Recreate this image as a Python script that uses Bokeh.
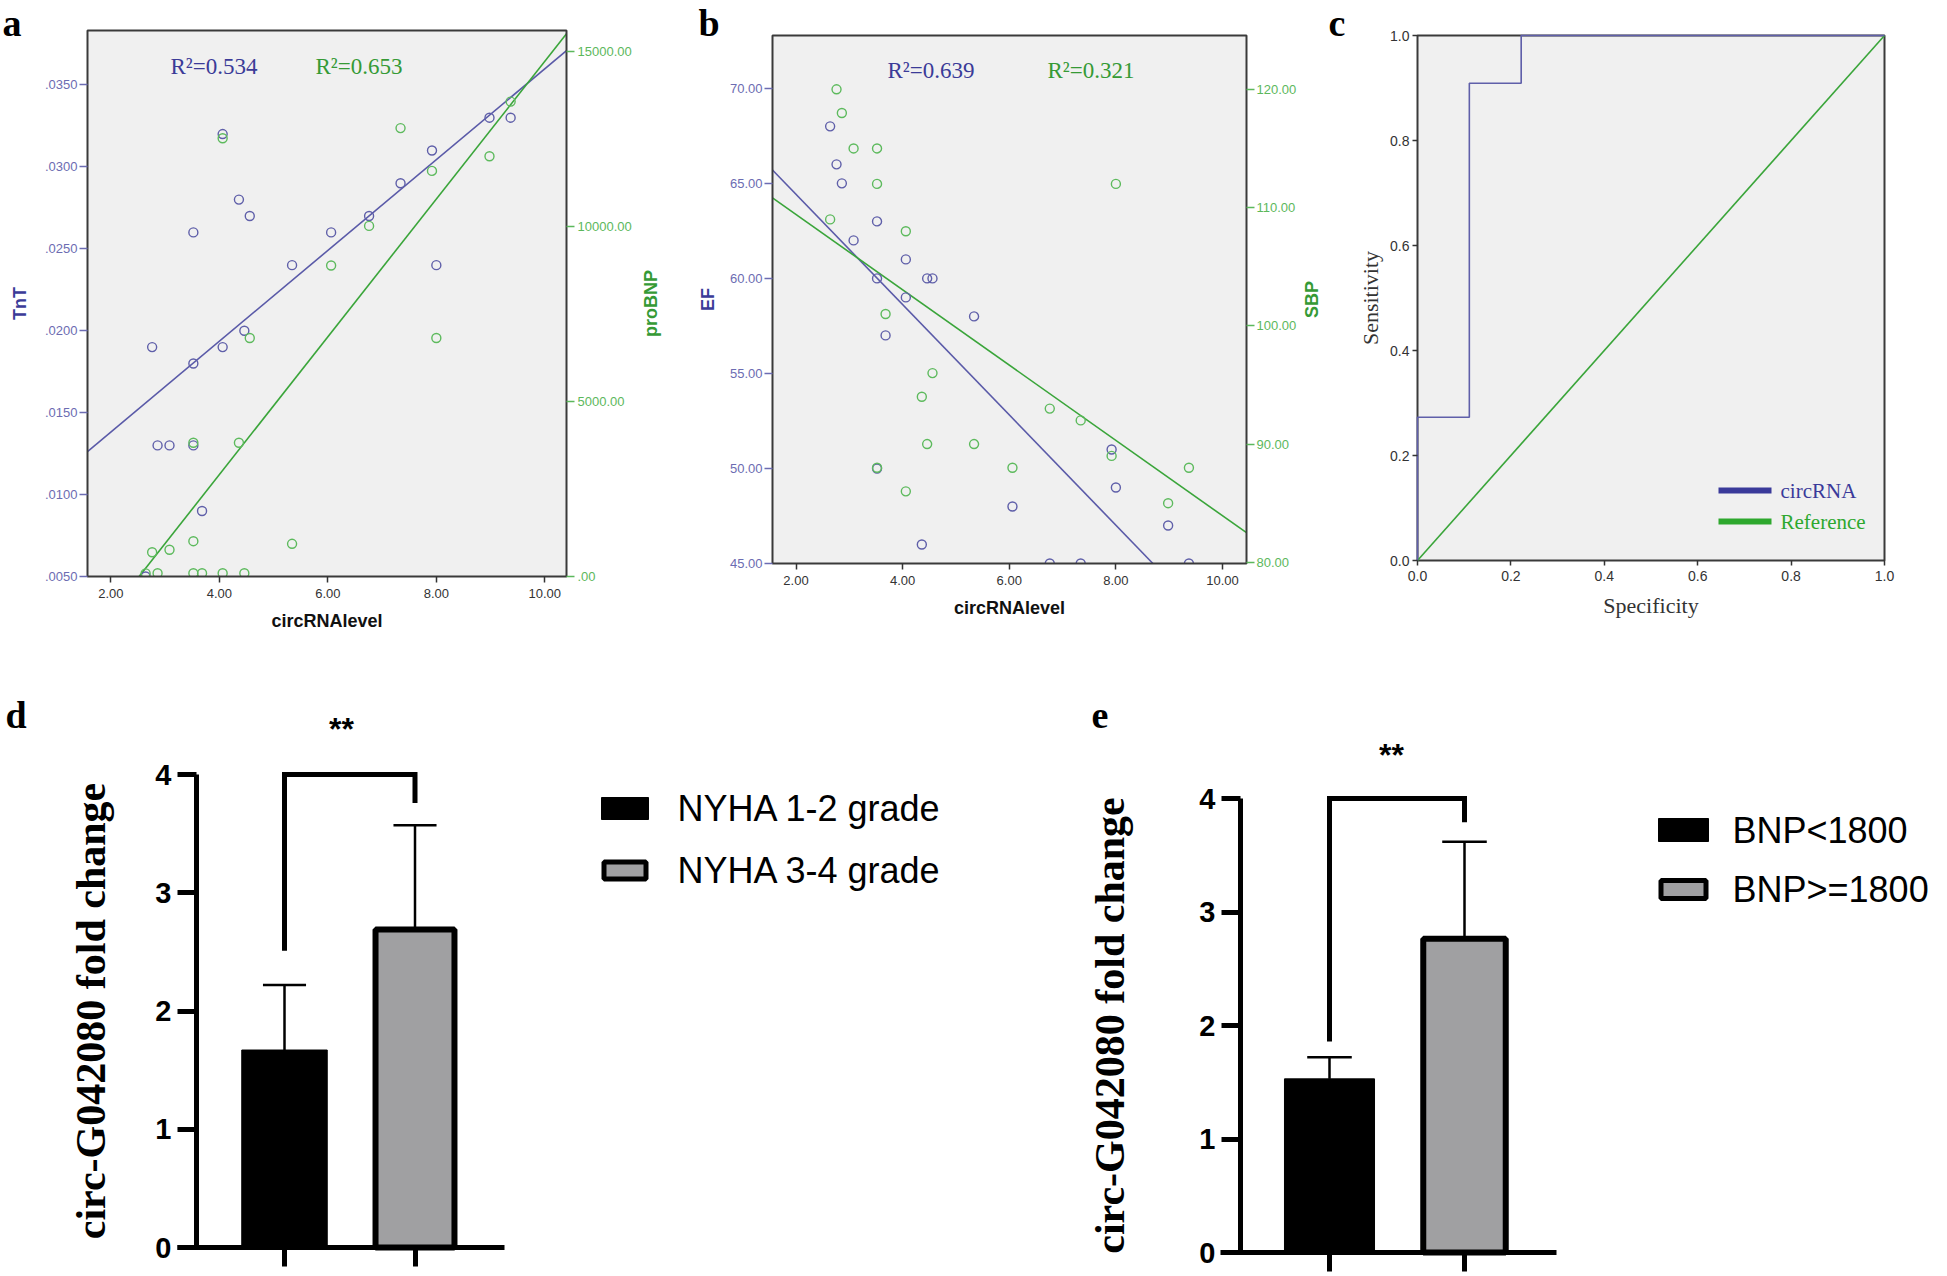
import math
from bokeh.plotting import figure
from bokeh.models import LinearAxis, Range1d, FixedTicker, ColumnDataSource
from bokeh.layouts import column, row
from bokeh.core.properties import value
from bokeh.embed import file_html
from bokeh.resources import INLINE

SANS = "Liberation Sans"
SERIF = "Liberation Serif"

# ---------------- data ----------------
circ_level = [2.64, 2.76, 2.86, 3.08, 3.52, 3.52, 3.52, 3.68, 4.06, 4.06, 4.36,
              4.46, 4.56, 5.34, 6.06, 6.76, 7.34, 7.92, 8.00, 8.98, 9.37]
tnt = [0.0050, 0.0190, 0.0130, 0.0130, 0.0260, 0.0180, 0.0130, 0.0090, 0.0320, 0.0190, 0.0280,
       0.0200, 0.0270, 0.0240, 0.0260, 0.0270, 0.0290, 0.0310, 0.0240, 0.0330, 0.0330]
probnp = [90, 694, 94, 763, 1009, 3820, 94, 94, 12520, 94, 3820,
          94, 6814, 934, 8887, 10017, 12812, 11589, 6814, 12008, 13569]
ef = [68, 66, 65, 62, 63, 60, 50, 57, 61, 59, 46,
      60, 60, 58, 48, 45, 45, 51, 49, 47, 45]
sbp = [109, 120, 118, 115, 115, 112, 88, 101, 108, 86, 94,
       90, 96, 90, 88, 93, 92, 89, 112, 85, 88]

# regression lines (intercept, slope)
fit_tnt = (0.00828, 0.00277)
fit_bnp = (-4959.0, 1968.0)
fit_ef = (70.23, -2.902)
fit_sbp = (115.78, -3.184)
r2_a = ["R\u00b2=0.534", "R\u00b2=0.653"]
r2_b = ["R\u00b2=0.639", "R\u00b2=0.321"]

x_lim_a = (1.568, 10.40)
tnt_lim = (0.005, 0.03832)
bnp_lim = (0, 15600)
x_lim_b = (1.559, 10.45)
ef_lim = (45, 72.78)
sbp_lim = (79.9, 124.55)

x_ticks_ab = [2, 4, 6, 8, 10]
x_tick_labels_ab = ["2.00", "4.00", "6.00", "8.00", "10.00"]
tnt_ticks = [0.005, 0.01, 0.015, 0.02, 0.025, 0.03, 0.035]
tnt_tick_labels = [".0050", ".0100", ".0150", ".0200", ".0250", ".0300", ".0350"]
bnp_ticks = [0, 5000, 10000, 15000]
bnp_tick_labels = [".00", "5000.00", "10000.00", "15000.00"]
ef_ticks = [45, 50, 55, 60, 65, 70]
ef_tick_labels = ["45.00", "50.00", "55.00", "60.00", "65.00", "70.00"]
sbp_ticks = [80, 90, 100, 110, 120]
sbp_tick_labels = ["80.00", "90.00", "100.00", "110.00", "120.00"]

roc_fpr = [0.0, 0.0, 0.111, 0.111, 0.222, 0.222, 1.0]
roc_tpr = [0.0, 0.273, 0.273, 0.909, 0.909, 1.0, 1.0]
ref_x = [0.0, 1.0]
ref_y = [0.0, 1.0]
roc_ticks = [0, 0.2, 0.4, 0.6, 0.8, 1.0]
roc_tick_labels = ["0.0", "0.2", "0.4", "0.6", "0.8", "1.0"]
roc_legend = ["circRNA", "Reference"]

nyha_groups = ["NYHA 1-2 grade", "NYHA 3-4 grade"]
nyha_mean = [1.67, 2.69]
nyha_sd = [0.55, 0.88]
nyha_bracket = [2.51, 4.0, 3.76]
bnp_groups = ["BNP<1800", "BNP>=1800"]
bnp_mean = [1.53, 2.765]
bnp_sd = [0.19, 0.855]
bnp_bracket = [1.86, 4.0, 3.79]
bar_ticks = [0, 1, 2, 3, 4]
signif = "**"

# ---------------- colours ----------------
BLUE_PT = "#5f5fa9"
BLUE_LN = "#5a5aa8"
BLUE_TX = "#3b3b98"
BLUE_TK = "#6c6cb2"
GREEN_PT = "#5dba5d"
GREEN_LN = "#3aa53a"
GREEN_TX = "#359a35"
GREEN_TK = "#5cb85c"
DARK = "#333333"
GRAY_BAR = "#a0a0a2"
FRAME = "#3a3a3a"

ROW1_H = 664
ROW2_H = 610


# ---------------- helpers (pixel <-> data, layout only) ----------------
def rng(v0, v1, p0, p1, size):
    s = (v1 - v0) / (p1 - p0)
    start = v0 - p0 * s
    return Range1d(start, start + size * s)


def X(r, W, px):
    return r.start + px * (r.end - r.start) / W


def Y(r, H, py):
    return r.end - py * (r.end - r.start) / H


def DX(r, W, px):
    return px * (r.end - r.start) / W


def clip_fit(fit, xlim, ylim):
    a, b = fit
    lo, hi = xlim
    if b != 0:
        xa, xb = (ylim[0] - a) / b, (ylim[1] - a) / b
        lo, hi = max(lo, min(xa, xb)), min(hi, max(xa, xb))
    return [lo, hi], [a + b * lo, a + b * hi]


def blank(p):
    p.outline_line_color = None
    p.background_fill_color = "white"
    p.border_fill_color = "white"
    p.xgrid.visible = False
    p.ygrid.visible = False


def axis_style(ax, ticks, labels, color, size="13px", tick_out=8, standoff=3):
    ax.ticker = FixedTicker(ticks=ticks)
    ax.major_label_overrides = {t: l for t, l in zip(ticks, labels)}
    ax.major_label_text_font = SANS
    ax.major_label_text_font_size = size
    ax.major_label_text_color = color
    ax.major_label_standoff = standoff
    ax.axis_line_color = None
    ax.major_tick_line_color = color
    ax.major_tick_line_width = 1.5
    ax.major_tick_out = tick_out
    ax.major_tick_in = 0
    ax.minor_tick_line_color = None


def axis_label(ax, text, color, font=SANS, style="bold", size="18px", standoff=10):
    ax.axis_label = text
    ax.axis_label_text_font = font
    ax.axis_label_text_font_style = style
    ax.axis_label_text_font_size = size
    ax.axis_label_text_color = color
    ax.axis_label_standoff = standoff


def put_text(p, x, y, t, font, size, color="black", style="normal", align="left",
             baseline="middle", angle=0.0, y_range_name="default"):
    p.text(x=[x], y=[y], text=[t], text_font=value(font), text_font_size=size,
           text_font_style=style, text_color=color, text_align=align,
           text_baseline=baseline, angle=angle, y_range_name=y_range_name)


def frame_box(p, xlim, ylim, yr, H):
    # hide marks spilling below the plot box, then redraw its border
    p.quad(left=[xlim[0] - 0.3], right=[xlim[1] + 0.3], bottom=[ylim[0] - DX(yr, H, 14)],
           top=[ylim[0]], fill_color="white", line_color=None)
    p.quad(left=[xlim[0]], right=[xlim[1]], bottom=[ylim[0]], top=[ylim[1]],
           fill_color=None, line_color=FRAME, line_width=2)


# ---------------- panel a ----------------
W = 680
xr = rng(x_lim_a[0], x_lim_a[1], 87, 566, W)
yr = rng(tnt_lim[0], tnt_lim[1], ROW1_H - 576, ROW1_H - 30, ROW1_H)
yr2 = rng(bnp_lim[0], bnp_lim[1], ROW1_H - 576, ROW1_H - 30, ROW1_H)
pa = figure(width=W, height=ROW1_H, x_range=xr, y_range=yr, output_backend="svg",
            toolbar_location=None, min_border=0)
blank(pa)
pa.extra_y_ranges = {"bnp": yr2}
pa.quad(left=[x_lim_a[0]], right=[x_lim_a[1]], bottom=[tnt_lim[0]], top=[tnt_lim[1]],
        fill_color="#f0f0f0", line_color=None)
ba, la = pa.below[0], pa.left[0]
ra = LinearAxis(y_range_name="bnp")
pa.add_layout(ra, "right")
ba.fixed_location, ba.bounds = tnt_lim[0], x_lim_a
la.fixed_location, la.bounds = x_lim_a[0], tnt_lim
ra.fixed_location, ra.bounds = x_lim_a[1], bnp_lim
axis_style(ba, x_ticks_ab, x_tick_labels_ab, DARK, tick_out=6, standoff=6)
axis_style(la, tnt_ticks, tnt_tick_labels, BLUE_TK, standoff=2)
axis_style(ra, bnp_ticks, bnp_tick_labels, GREEN_TK, standoff=3)
axis_label(ba, "circRNAlevel", "#111111", standoff=10)
axis_label(la, "TnT", BLUE_TX, standoff=12)

lx, ly = clip_fit(fit_tnt, x_lim_a, tnt_lim)
pa.line(lx, ly, line_color=BLUE_LN, line_width=1.6)
lx, ly = clip_fit(fit_bnp, x_lim_a, bnp_lim)
pa.line(lx, ly, line_color=GREEN_LN, line_width=1.6, y_range_name="bnp")
pa.scatter(circ_level, tnt, marker="circle", size=9, fill_color=None, line_color=BLUE_PT,
           line_width=1.4)
pa.scatter(circ_level, probnp, marker="circle", size=9, fill_color=None, line_color=GREEN_PT,
           line_width=1.4, y_range_name="bnp")
frame_box(pa, x_lim_a, tnt_lim, yr, ROW1_H)
put_text(pa, X(xr, W, 170), Y(yr, ROW1_H, 66), r2_a[0], SERIF, "23px", BLUE_TX)
put_text(pa, X(xr, W, 315), Y(yr, ROW1_H, 66), r2_a[1], SERIF, "23px", GREEN_TX)
put_text(pa, X(xr, W, 650), Y(yr, ROW1_H, 303), "proBNP", SANS, "18px", GREEN_TX, style="bold",
         align="center", angle=math.pi / 2)
put_text(pa, X(xr, W, 2), Y(yr, ROW1_H, 22), "a", SERIF, "38px", style="bold")

# ---------------- panel b ----------------
W = 645
xr = rng(x_lim_b[0], x_lim_b[1], 92, 566, W)
yr = rng(ef_lim[0], ef_lim[1], ROW1_H - 563, ROW1_H - 35, ROW1_H)
yr2 = rng(sbp_lim[0], sbp_lim[1], ROW1_H - 563, ROW1_H - 35, ROW1_H)
pb = figure(width=W, height=ROW1_H, x_range=xr, y_range=yr, output_backend="svg",
            toolbar_location=None, min_border=0)
blank(pb)
pb.extra_y_ranges = {"sbp": yr2}
pb.quad(left=[x_lim_b[0]], right=[x_lim_b[1]], bottom=[ef_lim[0]], top=[ef_lim[1]],
        fill_color="#f0f0f0", line_color=None)
bb, lb = pb.below[0], pb.left[0]
rb = LinearAxis(y_range_name="sbp")
pb.add_layout(rb, "right")
bb.fixed_location, bb.bounds = ef_lim[0], x_lim_b
lb.fixed_location, lb.bounds = x_lim_b[0], ef_lim
rb.fixed_location, rb.bounds = x_lim_b[1], sbp_lim
axis_style(bb, x_ticks_ab, x_tick_labels_ab, DARK, tick_out=6, standoff=6)
axis_style(lb, ef_ticks, ef_tick_labels, BLUE_TK, standoff=2)
axis_style(rb, sbp_ticks, sbp_tick_labels, GREEN_TK, standoff=2)
axis_label(bb, "circRNAlevel", "#111111", standoff=10)
axis_label(lb, "EF", BLUE_TX, standoff=9)

lx, ly = clip_fit(fit_ef, x_lim_b, ef_lim)
pb.line(lx, ly, line_color=BLUE_LN, line_width=1.6)
lx, ly = clip_fit(fit_sbp, x_lim_b, sbp_lim)
pb.line(lx, ly, line_color=GREEN_LN, line_width=1.6, y_range_name="sbp")
pb.scatter(circ_level, ef, marker="circle", size=9, fill_color=None, line_color=BLUE_PT,
           line_width=1.4)
pb.scatter(circ_level, sbp, marker="circle", size=9, fill_color=None, line_color=GREEN_PT,
           line_width=1.4, y_range_name="sbp")
frame_box(pb, x_lim_b, ef_lim, yr, ROW1_H)
put_text(pb, X(xr, W, 207), Y(yr, ROW1_H, 70), r2_b[0], SERIF, "23px", BLUE_TX)
put_text(pb, X(xr, W, 367), Y(yr, ROW1_H, 70), r2_b[1], SERIF, "23px", GREEN_TX)
put_text(pb, X(xr, W, 631), Y(yr, ROW1_H, 299), "SBP", SANS, "18px", GREEN_TX, style="bold",
         align="center", angle=math.pi / 2)
put_text(pb, X(xr, W, 18), Y(yr, ROW1_H, 22), "b", SERIF, "38px", style="bold")

# ---------------- panel c ----------------
W = 620
xr = rng(0, 1, 92, 559, W)
yr = rng(0, 1, ROW1_H - 560, ROW1_H - 35, ROW1_H)
pc = figure(width=W, height=ROW1_H, x_range=xr, y_range=yr, output_backend="svg",
            toolbar_location=None, min_border=0)
blank(pc)
pc.quad(left=[0], right=[1], bottom=[0], top=[1], fill_color="#f0f0f0", line_color=FRAME,
        line_width=2)
bc, lc = pc.below[0], pc.left[0]
bc.fixed_location, bc.bounds = 0, (0, 1)
lc.fixed_location, lc.bounds = 0, (0, 1)
axis_style(bc, roc_ticks, roc_tick_labels, DARK, size="14px", tick_out=5, standoff=5)
axis_style(lc, roc_ticks, roc_tick_labels, DARK, size="14px", tick_out=5, standoff=3)
axis_label(bc, "Specificity", DARK, font=SERIF, style="normal", size="22px", standoff=9)
axis_label(lc, "Sensitivity", DARK, font=SERIF, style="normal", size="22px", standoff=4)
pc.line(ref_x, ref_y, line_color=GREEN_LN, line_width=1.6)
pc.line(roc_fpr, roc_tpr, line_color=BLUE_PT, line_width=1.6)
leg_cols = ["#3a3a9a", "#2ea82e"]
for i, py in enumerate([490, 521]):
    yy = Y(yr, ROW1_H, py)
    pc.segment(x0=[X(xr, W, 393)], y0=[yy], x1=[X(xr, W, 446)], y1=[yy],
               line_color=leg_cols[i], line_width=6)
    put_text(pc, X(xr, W, 455), yy, roc_legend[i], SERIF, "21px", leg_cols[i])
put_text(pc, X(xr, W, 3), Y(yr, ROW1_H, 22), "c", SERIF, "38px", style="bold")


# ---------------- panels d / e ----------------
def bar_panel(W, c1_px, c2_px, y0_py, y4_py, yaxis_px, xaxis_px, means, sds, widths,
              bracket, star_px, letter_px, letter_t, groups, leg_cx, leg_cy, leg_wh,
              leg_tx, label_standoff):
    H = ROW2_H
    xr = rng(1, 2, c1_px, c2_px, W)
    yr = rng(0, 4, H - y0_py, H - y4_py, H)
    p = figure(width=W, height=H, x_range=xr, y_range=yr, output_backend="svg",
               toolbar_location=None, min_border=0)
    blank(p)
    xa, ya = p.below[0], p.left[0]
    xa.fixed_location = 0
    xa.bounds = (X(xr, W, xaxis_px[0]), X(xr, W, xaxis_px[1]))
    xa.ticker = FixedTicker(ticks=[1, 2])
    xa.major_label_overrides = {1: "", 2: ""}
    ya.fixed_location = X(xr, W, yaxis_px)
    ya.bounds = (0, 4)
    ya.ticker = FixedTicker(ticks=bar_ticks)
    for ax in (xa, ya):
        ax.axis_line_width = 5
        ax.axis_line_color = "black"
        ax.major_tick_line_width = 5
        ax.major_tick_line_color = "black"
        ax.major_tick_out = 19
        ax.major_tick_in = 0
        ax.minor_tick_line_color = None
    ya.major_label_text_font = SANS
    ya.major_label_text_font_style = "bold"
    ya.major_label_text_font_size = "29px"
    ya.major_label_text_color = "black"
    ya.major_label_standoff = 6
    ya.axis_label = "circ-G042080 fold change"
    ya.axis_label_text_font = SERIF
    ya.axis_label_text_font_style = "bold"
    ya.axis_label_text_font_size = "42px"
    ya.axis_label_text_color = "black"
    ya.axis_label_standoff = label_standoff

    src = ColumnDataSource(dict(x=[1, 2], top=means, w=widths, fill=["black", GRAY_BAR],
                                lw=[1, 6]))
    p.vbar(x="x", top="top", bottom=0, width="w", fill_color="fill", line_color="black",
           line_width="lw", source=src)
    ups = [m + s for m, s in zip(means, sds)]
    cap = 0.165
    p.segment(x0=[1, 2], y0=means, x1=[1, 2], y1=ups, line_color="black", line_width=2.5)
    p.segment(x0=[1 - cap, 2 - cap], y0=ups, x1=[1 + cap, 2 + cap], y1=ups,
              line_color="black", line_width=2.5)
    p.line(x=[1, 1, 2, 2], y=[bracket[0], bracket[1], bracket[1], bracket[2]],
           line_color="black", line_width=5, line_join="miter")
    put_text(p, X(xr, W, star_px[0]), Y(yr, H, star_px[1]), signif, SANS, "32px",
             style="bold", align="center")
    put_text(p, X(xr, W, letter_px[0]), Y(yr, H, letter_px[1]), letter_t, SERIF, "38px",
             style="bold")
    # legend
    lw, lh = leg_wh
    p.rect(x=[X(xr, W, leg_cx)], y=[Y(yr, H, leg_cy[0])], width=DX(xr, W, lw),
           height=DX(yr, H, lh), fill_color="black", line_color="black", line_width=1)
    p.rect(x=[X(xr, W, leg_cx)], y=[Y(yr, H, leg_cy[1])], width=DX(xr, W, lw - 5),
           height=DX(yr, H, lh - 5), fill_color=GRAY_BAR, line_color="black", line_width=5)
    for i in range(2):
        put_text(p, X(xr, W, leg_tx), Y(yr, H, leg_cy[i]), groups[i], SANS, "36px")
    return p


# panel d: figure at screen (0, 664)
pd_ = bar_panel(1060, 284, 414.5, 1247 - 664, 774 - 664, 196, (177, 504),
                nyha_mean, nyha_sd, [0.655, 0.605], nyha_bracket, (341, 728 - 664),
                (5, 714 - 664), "d", nyha_groups, 624.5, [808 - 664, 870 - 664], (47, 22),
                677, 38)
# panel e: figure at screen (1060, 664)
pe = bar_panel(885, 1329 - 1060, 1464 - 1060, 1252 - 664, 798 - 664, 1240 - 1060,
               (1220 - 1060, 1556 - 1060), bnp_mean, bnp_sd, [0.667, 0.611], bnp_bracket,
               (1391 - 1060, 754 - 664), (1091 - 1060, 715 - 664), "e", bnp_groups,
               1683 - 1060, [829.5 - 664, 889 - 664], (50, 23), 1732 - 1060, 63)

layout = column(row(pa, pb, pc), row(pd_, pe))
open("out.html", "w").write(file_html(layout, INLINE))
